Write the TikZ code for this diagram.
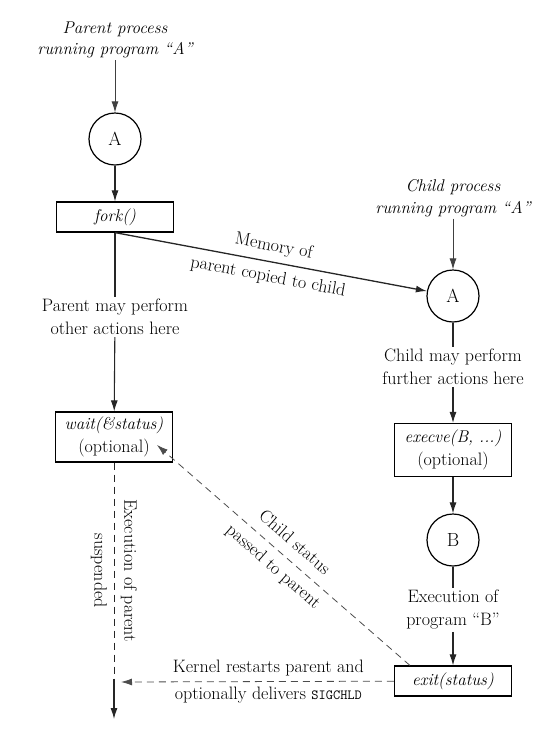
\documentclass[tikz,border=0pt]{standalone}
\usepackage{tikz}
\usetikzlibrary{arrows.meta}

\begin{document}
\begin{tikzpicture}[x=1pt, y=-1pt,
    every node/.style={font=\fontsize{18}{23}\selectfont},
    proc/.style={draw, line width=1.2pt, circle, minimum size=52pt, inner sep=0pt, font=\fontsize{19}{23}\selectfont},
    call/.style={draw, line width=1.2pt, minimum width=117pt, minimum height=30pt, inner sep=1pt, align=center, fill=white},
    note/.style={align=center, inner sep=2pt, fill=white},
    title/.style={note, font=\fontsize{17}{21.5}\selectfont\itshape},
    flow/.style={-{Latex[length=11pt,width=7pt]}, line width=1.1pt, black!85},
    feed/.style={-{Latex[length=11pt,width=7pt]}, line width=0.8pt, black!75},
    signal/.style={dash pattern=on 7pt off 5pt, line width=0.8pt, black!70}]
    \useasboundingbox (0,0) rectangle (544,732);

    % parent side
    \node[title] (plabel) at (115,40) {Parent process\\running program ``A''};
    \node[proc] (pA) at (115,139) {A};
    \node[call] (fork) at (115,217) {\textit{\fontsize{17}{21}\selectfont fork()}};
    \node[note] (pmay) at (115,317) {Parent may perform\\other actions here};
    \node[call, minimum height=50pt] (wait) at (114,437) {\textit{\fontsize{17}{21}\selectfont wait(\&status)}\\(optional)};
    \coordinate (resume) at (114,679);
    \coordinate (pend) at (114,719);

    % child side
    \node[title] (clabel) at (453,198) {Child process\\running program ``A''};
    \node[proc] (cA) at (453,296) {A};
    \node[note] (cmay) at (453,367) {Child may perform\\further actions here};
    \node[call, minimum height=53pt] (exec) at (453,450) {\textit{\fontsize{17}{21}\selectfont execve(B, ...)}\\(optional)};
    \node[proc] (cB) at (453,540) {B};
    \node[note] (cexe) at (453,610) {Execution of\\program ``B''};
    \node[call] (exit) at (453,681) {\textit{\fontsize{17}{21}\selectfont exit(status)}};
    \coordinate (wtip) at (157,445);
    \coordinate (ktip) at (121,682);

    \draw[feed] (plabel) -- (pA);
    \draw[flow] (pA) -- (fork);
    \draw[line width=1.1pt, black!85] (fork) -- (pmay);
    \draw[flow] (pmay) -- (wait);
    \draw[flow, line width=1.3pt] (fork.south) -- (cA)
        node[midway, sloped, align=center, text=black] {Memory of\\[8pt]parent copied to child};

    \draw[feed] (clabel) -- (cA);
    \draw[line width=1.1pt, black!85] (cA) -- (cmay);
    \draw[flow] (cmay) -- (exec);
    \draw[flow] (exec) -- (cB);
    \draw[line width=1.1pt, black!85] (cB) -- (cexe);
    \draw[flow] (cexe) -- (exit);

    % status back to parent
    \draw[signal, -{Latex[length=11pt,width=7pt]}] (exit.north west) ++(16,0) -- (wtip)
        node[midway, sloped, align=center, text=black] {Child status\\[9pt]passed to parent};
    \draw[signal, black!85, line width=1pt] (wait) -- (resume)
        node[midway, rotate=-90, align=center, text=black] {Execution of parent\\[7pt]suspended};
    \draw[flow] (resume) -- (pend);
    \draw[signal, -{Latex[length=11pt,width=7pt]}] (exit) -- (ktip)
        node[pos=0.46, align=center, text=black] {Kernel restarts parent and\\[4pt]optionally delivers {\fontsize{14}{16}\selectfont\ttfamily SIGCHLD}};
\end{tikzpicture}
\end{document}
